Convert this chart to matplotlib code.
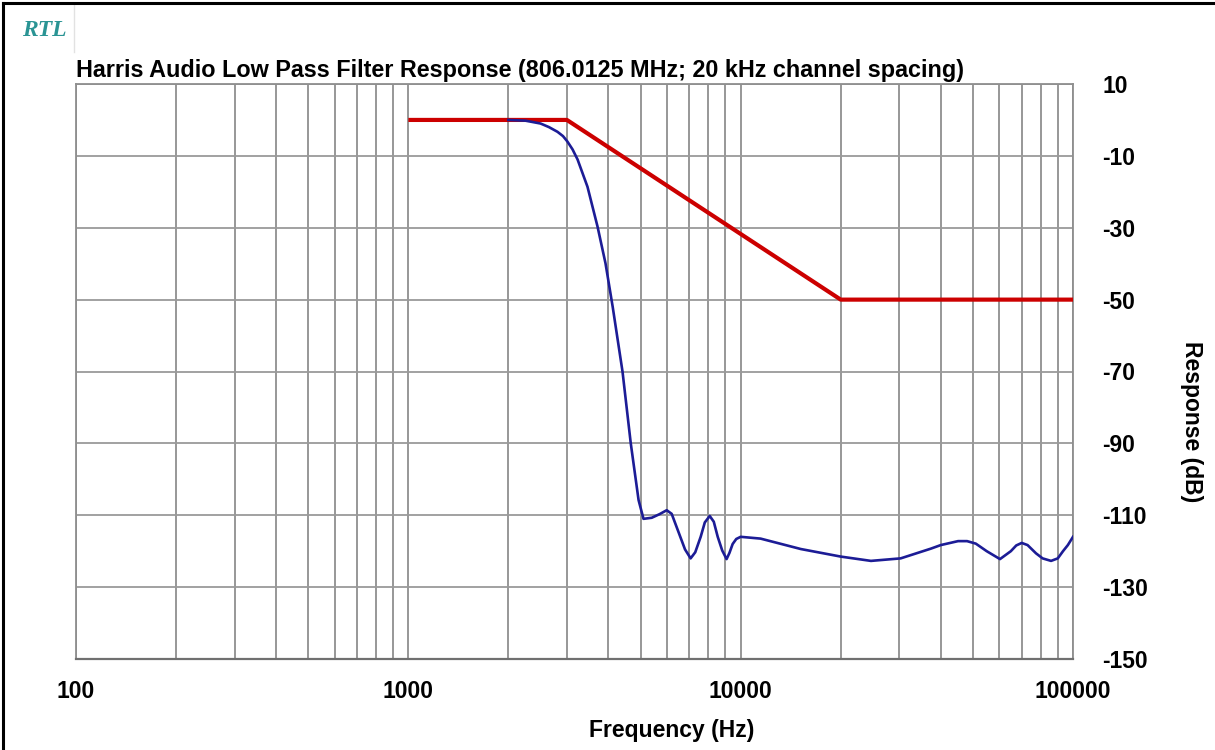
import numpy as np
import matplotlib.pyplot as plt
from matplotlib.lines import Line2D

# spec mask (red) and measured response (blue)
mask_freq = [1000, 3000, 20000, 100000]
mask_db = [0, 0, -50, -50]

resp_freq = [2000, 2250, 2500, 2650, 2810, 2920, 3010, 3120, 3230, 3460,
             3710, 3920, 4120, 4410, 4670, 4930, 5100, 5400, 5700, 5990,
             6200, 6460, 6800, 7070, 7300, 7580, 7800, 8070, 8300, 8530,
             8800, 9070, 9250, 9460, 9700, 10000, 11480, 15170, 20000,
             24660, 30300, 37330, 40000, 45100, 48000, 51000, 55000, 60300,
             65000, 67500, 70100, 73000, 77400, 81000, 85900, 90000, 93300,
             96500, 100000]
resp_db = [0, -0.2, -1, -2, -3.3, -4.5, -6, -8.2, -11, -18.6,
           -29.7, -39.9, -52, -70, -90, -105.8, -111, -110.7, -109.7, -108.6,
           -109.6, -114, -119.5, -122, -120.3, -116, -112, -110.2, -111.8, -116,
           -119.8, -122.2, -120.5, -118, -116.6, -116, -116.5, -119.4, -121.5,
           -122.7, -122, -119.3, -118.3, -117.2, -117.2, -117.9, -120, -122.2,
           -120, -118.4, -117.7, -118.3, -120.6, -122, -122.7, -122, -120,
           -118.3, -116]

x_major = [100, 1000, 10000, 100000]
x_labels = ['100', '1000', '10000', '100000']
y_ticks = [10, -10, -30, -50, -70, -90, -110, -130, -150]

plt.rcParams['font.family'] = ['Liberation Sans', 'DejaVu Sans']
plt.rcParams['axes.unicode_minus'] = False

fig = plt.figure(figsize=(12.15, 7.5), dpi=100)
ax = fig.add_axes([76 / 1215, 1 - 659 / 750, 997 / 1215, 575 / 750])

ax.plot(mask_freq, mask_db, color='#cc0000', lw=3.0, solid_capstyle='butt', zorder=3)
ax.plot(resp_freq, resp_db, color='#1c1c96', lw=1.9, zorder=4)

ax.set_xscale('log')
ax.set_xlim(100, 100000)
ax.set_ylim(-150, 10)

ax.set_xticks(x_major)
ax.set_xticklabels(x_labels)
minor = [m * d for d in [100, 1000, 10000] for m in range(2, 10)]
ax.set_xticks(minor, minor=True)
ax.xaxis.set_minor_formatter(plt.NullFormatter())
ax.set_yticks(y_ticks)
ax.yaxis.tick_right()

ax.tick_params(axis='both', which='both', length=0)
ax.tick_params(axis='x', pad=15, labelsize=16.5)
ax.tick_params(axis='y', pad=21, labelsize=16.5)
for lab in ax.get_xticklabels() + ax.get_yticklabels():
    lab.set_fontweight('bold')

ax.grid(True, which='both', axis='x', color='#8f8f8f', lw=1.3)
ax.grid(True, which='major', axis='y', color='#9a9a9a', lw=1.3)
ax.set_axisbelow(True)
for side in ['top', 'left', 'right']:
    ax.spines[side].set_color('#8f8f8f')
    ax.spines[side].set_linewidth(1.3)
ax.spines['bottom'].set_color('#707070')
ax.spines['bottom'].set_linewidth(1.6)

ax.text(0, 1.003, 'Harris Audio Low Pass Filter Response (806.0125 MHz; 20 kHz channel spacing)',
        transform=ax.transAxes, ha='left', va='bottom', fontsize=16.8,
        fontweight='bold')

fig.text(672 / 1215, 1 - 730 / 750, 'Frequency (Hz)', ha='center', va='center',
         fontsize=16.5, fontweight='bold')
fig.text(1192 / 1215, 1 - 422 / 750, 'Response (dB)', ha='center', va='center',
         rotation=-90, fontsize=16.5, fontweight='bold')

# logo box in the corner
fig.text(44 / 1215, 1 - 31 / 750, 'RTL', ha='center', va='center', color='#2a9494',
         fontsize=17, fontweight='bold', fontstyle='italic', family='Liberation Serif')
fig.add_artist(Line2D([74 / 1215, 74 / 1215], [1 - 5 / 750, 1 - 52 / 750],
                      color='#e2e2e2', lw=1))

# outer frame
fig.add_artist(Line2D([3 / 1215, 3 / 1215], [0, 1 - 3 / 750], color='black', lw=2.2))
fig.add_artist(Line2D([3 / 1215, 1], [1 - 3 / 750, 1 - 3 / 750], color='black', lw=2.2))

fig.savefig('out.png', dpi=100)
